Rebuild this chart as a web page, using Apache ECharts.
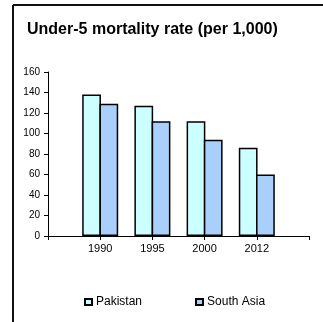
<!DOCTYPE html>
<html>
<head>
<meta charset="utf-8">
<style>
  html, body { margin: 0; padding: 0; background: #fff; }
  #chart { width: 323px; height: 322px; }
</style>
<script src="https://cdn.jsdelivr.net/npm/echarts@6/dist/echarts.min.js"></script>
</head>
<body>
<div id="chart"></div>
<script>
// Years shown on the category axis; blank slots pad each end so the bar pairs sit on the ticks.
const years = ['', '1990', '1995', '2000', '2012', ''];
// Under-5 deaths per 1,000 live births
const pakistan = [null, 138, 127, 112, 86, null];
const southAsia = [null, 129, 112, 94, 60, null];
const yTicks = { min: 0, max: 160, step: 20 };

const font = 'Liberation Sans, Arial, sans-serif';
const chart = echarts.init(document.getElementById('chart'), null, { renderer: 'canvas' });

chart.setOption({
  animation: false,
  backgroundColor: '#ffffff',
  title: {
    text: 'Under-5 mortality rate (per 1,000)',
    left: 27,
    top: 22,
    padding: 0,
    textStyle: { fontFamily: font, fontSize: 16, fontWeight: 'bold', color: '#000' }
  },
  graphic: [
    { type: 'line', shape: { x1: 13, y1: 5, x2: 323, y2: 5 }, style: { stroke: '#111', lineWidth: 2 } },
    { type: 'line', shape: { x1: 13, y1: 5, x2: 13, y2: 322 }, style: { stroke: '#111', lineWidth: 2 } }
  ],
  legend: {
    left: 84,
    top: 296,
    padding: 0,
    itemWidth: 7,
    itemHeight: 6,
    itemGap: 53,
    icon: 'rect',
    textStyle: { fontFamily: font, fontSize: 12, color: '#000', padding: [0, 0, 0, -1] },
    data: ['Pakistan', 'South Asia']
  },
  grid: { left: 48, right: 14, top: 72, bottom: 86, containLabel: false },
  xAxis: {
    type: 'category',
    data: years,
    boundaryGap: false,
    axisLine: { lineStyle: { color: '#000', width: 1 } },
    axisTick: { show: true, length: 4, inside: false, lineStyle: { color: '#000' } },
    axisLabel: { fontFamily: font, fontSize: 11, color: '#000', margin: 7, interval: 0 },
    splitLine: { show: false }
  },
  yAxis: {
    type: 'value',
    min: yTicks.min,
    max: yTicks.max,
    interval: yTicks.step,
    axisLine: { show: true, lineStyle: { color: '#000', width: 1 } },
    axisTick: { show: true, length: 4, lineStyle: { color: '#000' } },
    axisLabel: { fontFamily: font, fontSize: 10, color: '#000', margin: 8 },
    splitLine: { show: false }
  },
  series: [
    {
      name: 'Pakistan',
      type: 'bar',
      data: pakistan,
      barWidth: 18.75,
      barGap: '-8%',
      itemStyle: { color: '#ccffff', borderColor: '#000', borderWidth: 1.5 }
    },
    {
      name: 'South Asia',
      type: 'bar',
      data: southAsia,
      barWidth: 18.75,
      barGap: '-8%',
      itemStyle: { color: '#a8d0fb', borderColor: '#000', borderWidth: 1.5 }
    }
  ]
});
</script>
</body>
</html>
